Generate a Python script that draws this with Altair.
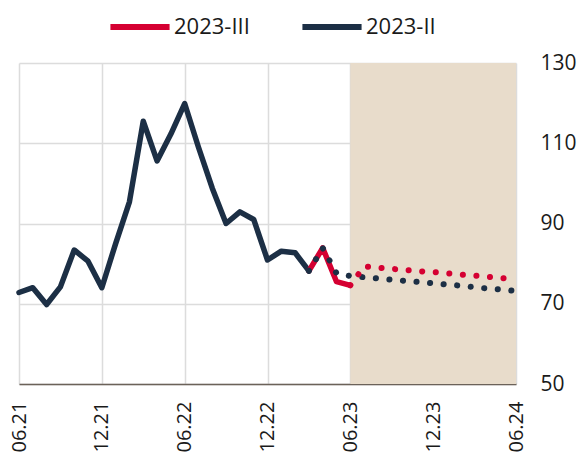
import altair as alt
import pandas as pd

# month index 0 = 06.21 ... 36 = 06.24
tick_labels = ["06.21", "12.21", "06.22", "12.22", "06.23", "12.23", "06.24"]
tick_idx = [0, 6, 12, 18, 24, 30, 36]

# 2023-II history (06.21 .. 03.23)
hist_ii = [72.8, 74.0, 69.8, 74.2, 83.4, 80.6, 74.0, 85.0, 95.4, 115.5, 105.6, 112.3,
           119.9, 109.0, 98.8, 90.0, 92.9, 91.0, 80.9, 83.1, 82.7, 78.2]
# 2023-II forecast (03.23 .. 06.24)
fc_ii = [78.2, 83.9, 77.6, 76.9, 76.6, 76.3, 76.0, 75.7, 75.4, 75.1, 74.8, 74.5,
         74.1, 73.8, 73.5, 73.2]
# 2023-III history (03.23 .. 06.23)
hist_iii = [78.2, 83.9, 75.5, 74.6]
# 2023-III forecast (06.23 .. 06.24)
fc_iii = [74.6, 79.3, 79.0, 78.7, 78.4, 78.1, 77.9, 77.6, 77.3, 77.0, 76.7, 76.4, 76.1]

series_names = ["2023-III", "2023-II"]
colors = ["#d50032", "#1c2f45"]

rows = []
for i, v in enumerate(hist_ii):
    rows.append({"m": i, "v": v, "s": "2023-II", "part": "solid"})
for i, v in enumerate(fc_ii):
    rows.append({"m": 21 + i, "v": v, "s": "2023-II", "part": "dotted"})
for i, v in enumerate(hist_iii):
    rows.append({"m": 21 + i, "v": v, "s": "2023-III", "part": "solid"})
for i, v in enumerate(fc_iii):
    rows.append({"m": 24 + i, "v": v, "s": "2023-III", "part": "dotted"})
df = pd.DataFrame(rows)

shade = pd.DataFrame({"x1": [24], "x2": [36], "y1": [50], "y2": [130]})

label_expr = "{" + ",".join(f"'{k}':'{l}'" for k, l in zip(tick_idx, tick_labels)) + "}[datum.value]"

x_scale = alt.Scale(domain=[0, 36], nice=False, zero=False)
y_scale = alt.Scale(domain=[50, 130], nice=False, zero=False)

x_axis = alt.Axis(values=tick_idx, labelExpr=label_expr, labelAngle=-90, title=None,
                  ticks=False, labelPadding=17, labelFontSize=20, grid=True,
                  gridColor="#dcdcdc", gridWidth=1.5, domain=True, domainColor="#6b6259",
                  domainWidth=1.5, labelColor="#1a1a1a", labelAlign="right",
                  labelBaseline="middle", labelBound=False, labelOverlap=False)
y_axis = alt.Axis(values=[50, 70, 90, 110, 130], orient="right", title=None, ticks=False,
                  labelPadding=24, labelFontSize=21, grid=True, gridColor="#dcdcdc",
                  gridWidth=1.5, domain=False, labelColor="#1a1a1a")

bg = alt.Chart(shade).mark_rect(color="#e8dccb").encode(
    x=alt.X("x1:Q", scale=x_scale, axis=x_axis),
    x2="x2",
    y=alt.Y("y1:Q", scale=y_scale, axis=y_axis),
    y2="y2",
)

color_enc = alt.Color("s:N", scale=alt.Scale(domain=series_names, range=colors),
                      legend=alt.Legend(title=None, orient="none", direction="horizontal",
                                        legendX=88, legendY=-69, labelFontSize=22,
                                        symbolType="stroke", symbolSize=3500,
                                        symbolStrokeWidth=6, labelOffset=1,
                                        columnPadding=40, labelColor="#1a1a1a"))

solid = alt.Chart(df).transform_filter(alt.datum.part == "solid").mark_line(
    strokeWidth=5.5, strokeCap="round", strokeJoin="round").encode(
    x=alt.X("m:Q", scale=x_scale),
    y=alt.Y("v:Q", scale=y_scale),
    color=color_enc,
)

dotted = alt.Chart(df).transform_filter(alt.datum.part == "dotted").mark_line(
    strokeWidth=6, strokeCap="round", strokeDash=[0.1, 13.5]).encode(
    x=alt.X("m:Q", scale=x_scale),
    y=alt.Y("v:Q", scale=y_scale),
    color=alt.Color("s:N", scale=alt.Scale(domain=series_names, range=colors), legend=None),
)

chart = alt.layer(bg, solid, dotted).properties(
    width=497, height=321,
    autosize=alt.AutoSizeParams(type="none"),
    padding={"left": 11, "top": 55, "right": 61, "bottom": 71},
).configure(font="Open Sans").configure_view(stroke=None)

chart.save("out.html", embed_options={"renderer": "svg", "actions": False})
